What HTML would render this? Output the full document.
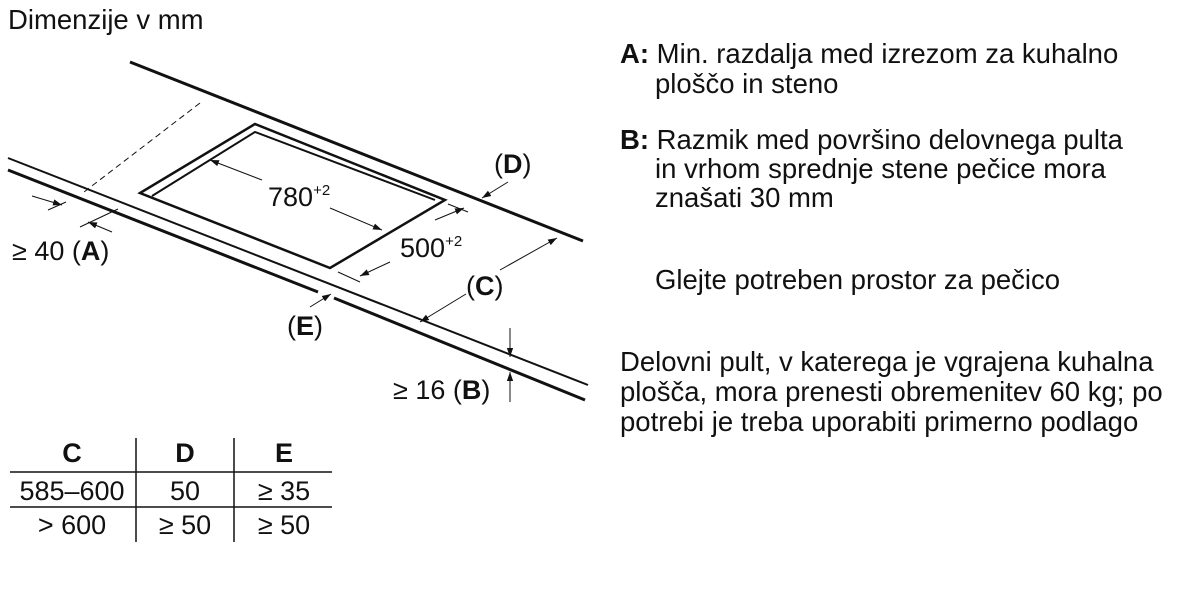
<!DOCTYPE html>
<html><head><meta charset="utf-8"><style>
body{margin:0;background:#fff}
svg{display:block}
text{font-family:"Liberation Sans",sans-serif;fill:#111}
</style></head><body>
<svg width="1200" height="600" viewBox="0 0 1200 600" xmlns="http://www.w3.org/2000/svg">
<defs><marker id="a" viewBox="0 0 10 10" refX="10" refY="5" markerWidth="9" markerHeight="9" orient="auto-start-reverse" markerUnits="userSpaceOnUse"><path d="M0,1.5 L10,5 L0,8.5z" fill="#111"/></marker></defs>
<text x="8" y="29" font-size="27.5">Dimenzije v mm</text>
<g stroke="#111" fill="none">
<line x1="130" y1="62" x2="583" y2="241" stroke-width="3"/>
<line x1="8" y1="158" x2="588" y2="385" stroke-width="2"/>
<polyline points="8,170 318,292" stroke-width="3"/>
<polyline points="334,298 585,400" stroke-width="3"/>
<line x1="200" y1="103" x2="84" y2="192" stroke-width="1" stroke-dasharray="6,4"/>
<polygon points="255,124 140,193 330,268 445,200" stroke-width="2.5"/>
<polyline points="152,196 255,132 435,200" stroke-width="2"/>
<line x1="210" y1="160" x2="262" y2="180" stroke-width="1" marker-start="url(#a)"/>
<line x1="330" y1="208" x2="382" y2="230" stroke-width="1" marker-end="url(#a)"/>
<line x1="448" y1="204" x2="468" y2="212" stroke-width="1"/>
<line x1="338" y1="272" x2="360" y2="282" stroke-width="1"/>
<line x1="435" y1="220" x2="464" y2="208" stroke-width="1" marker-end="url(#a)"/>
<line x1="390" y1="262" x2="360" y2="276" stroke-width="1" marker-end="url(#a)"/>
<line x1="500" y1="270" x2="557" y2="238" stroke-width="1" marker-end="url(#a)"/>
<line x1="466" y1="294" x2="420" y2="322" stroke-width="1" marker-end="url(#a)"/>
<line x1="508" y1="182" x2="482" y2="198" stroke-width="1" marker-end="url(#a)"/>
<line x1="310" y1="307" x2="331" y2="294" stroke-width="1" marker-end="url(#a)"/>
<line x1="48" y1="210" x2="66" y2="202" stroke-width="1"/>
<line x1="80" y1="227" x2="118" y2="209" stroke-width="1"/>
<line x1="32" y1="196" x2="62" y2="205" stroke-width="1" marker-end="url(#a)"/>
<line x1="112" y1="232" x2="88" y2="222" stroke-width="1" marker-end="url(#a)"/>
<line x1="510" y1="328" x2="510" y2="357" stroke-width="1" marker-end="url(#a)"/>
<line x1="510" y1="402" x2="510" y2="372" stroke-width="1" marker-end="url(#a)"/>
</g>
<text x="268" y="206" font-size="27">780<tspan font-size="15" dy="-11">+2</tspan></text>
<text x="400" y="257" font-size="27">500<tspan font-size="15" dy="-11">+2</tspan></text>
<text x="494" y="173" font-size="27">(<tspan font-weight="bold">D</tspan>)</text>
<text x="466" y="295" font-size="27">(<tspan font-weight="bold">C</tspan>)</text>
<text x="287" y="335" font-size="27">(<tspan font-weight="bold">E</tspan>)</text>
<text x="12" y="260" font-size="27">≥ 40 (<tspan font-weight="bold">A</tspan>)</text>
<text x="393" y="399" font-size="27">≥ 16 (<tspan font-weight="bold">B</tspan>)</text>
<g stroke="#111" stroke-width="1.5">
<line x1="10" y1="472" x2="332" y2="472"/><line x1="10" y1="507" x2="332" y2="507"/>
<line x1="136" y1="438" x2="136" y2="542"/><line x1="234" y1="438" x2="234" y2="542"/>
</g>
<g font-size="27" text-anchor="middle">
<text x="72" y="462" font-weight="bold">C</text><text x="185" y="462" font-weight="bold">D</text><text x="284" y="462" font-weight="bold">E</text>
<text x="72" y="500">585–600</text><text x="185" y="500">50</text><text x="284" y="500">≥ 35</text>
<text x="72" y="534">&gt; 600</text><text x="185" y="534">≥ 50</text><text x="284" y="534">≥ 50</text>
</g>
<g font-size="27.5">
<text x="620" y="63"><tspan font-weight="bold">A:</tspan> Min. razdalja med izrezom za kuhalno</text>
<text x="655" y="93">ploščo in steno</text>
<text x="620" y="149"><tspan font-weight="bold">B:</tspan> Razmik med površino delovnega pulta</text>
<text x="655" y="178">in vrhom sprednje stene pečice mora</text>
<text x="655" y="207">znašati 30 mm</text>
<text x="655" y="289">Glejte potreben prostor za pečico</text>
<text x="620" y="371">Delovni pult, v katerega je vgrajena kuhalna</text>
<text x="620" y="401">plošča, mora prenesti obremenitev 60 kg; po</text>
<text x="620" y="431">potrebi je treba uporabiti primerno podlago</text>
</g>
</svg>
</body></html>
